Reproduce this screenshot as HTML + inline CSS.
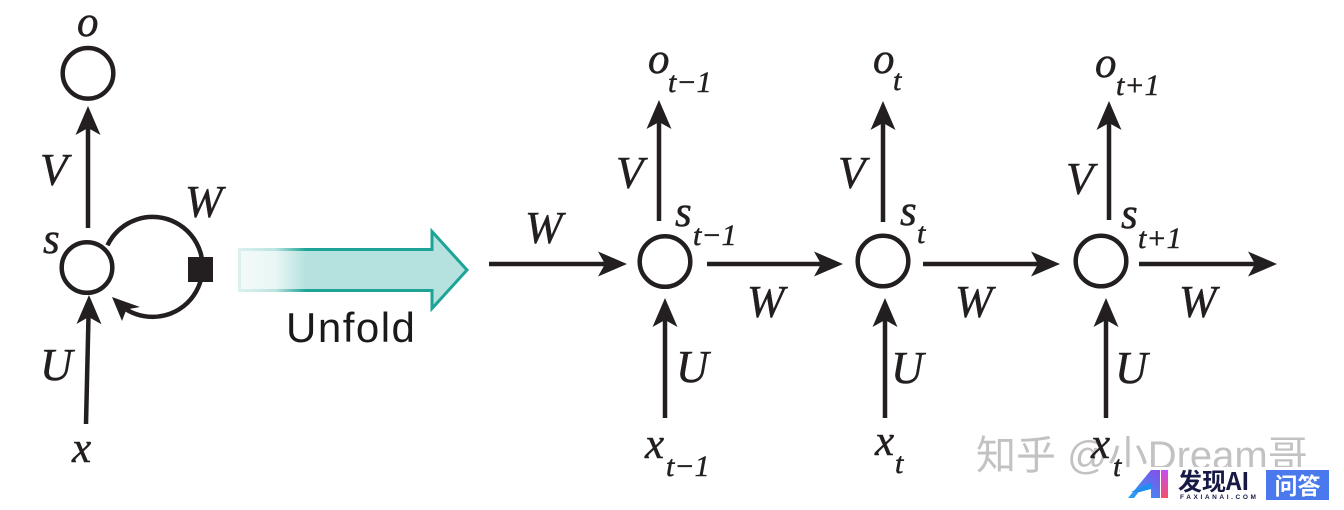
<!DOCTYPE html>
<html><head><meta charset="utf-8">
<style>
html,body{margin:0;padding:0;background:#fff;}
svg{display:block;}
.i{font-family:"Liberation Serif",serif;font-style:italic;fill:#231f20;stroke:#231f20;stroke-width:0.5;}
.C{font-size:45px;}
.l{font-size:43px;}
.sb{font-size:30px;}
</style></head>
<body>
<svg width="1344" height="510" viewBox="0 0 1344 510" xmlns="http://www.w3.org/2000/svg">
<defs>
  <linearGradient id="fade" x1="238" y1="0" x2="306" y2="0" gradientUnits="userSpaceOnUse">
    <stop offset="0" stop-color="#fff" stop-opacity="0.85"/>
    <stop offset="0.55" stop-color="#fff" stop-opacity="0.7"/>
    <stop offset="1" stop-color="#fff" stop-opacity="0"/>
  </linearGradient>
  <linearGradient id="lgA" x1="0" y1="1" x2="1" y2="0">
    <stop offset="0" stop-color="#1fa6f7"/>
    <stop offset="1" stop-color="#8a4ce8"/>
  </linearGradient>
  <linearGradient id="lgI" x1="0" y1="0" x2="0" y2="1">
    <stop offset="0" stop-color="#c44ef2"/>
    <stop offset="1" stop-color="#f4506a"/>
  </linearGradient>
</defs>

<g stroke="#231f20" stroke-width="4.5" fill="none">
  <circle cx="88" cy="73.3" r="25.3"/>
  <circle cx="87" cy="267.5" r="25.3"/>
  <line x1="88" y1="228" x2="88" y2="127"/>
  <line x1="86" y1="424" x2="88.5" y2="316"/>
  <path d="M107.5,245.3 A50,50 0 1,1 126.4,309.5"/>
  <circle cx="665" cy="261.5" r="25.3"/>
  <circle cx="883" cy="261" r="25.3"/>
  <circle cx="1101" cy="261" r="25.3"/>
  <line x1="659" y1="221" x2="659" y2="122"/>
  <line x1="883" y1="222" x2="883" y2="123"/>
  <line x1="1109" y1="220" x2="1109" y2="123"/>
  <line x1="665" y1="418" x2="665" y2="320"/>
  <line x1="885" y1="418" x2="885" y2="320"/>
  <line x1="1106" y1="418" x2="1106" y2="320"/>
  <line x1="489" y1="264" x2="606" y2="264"/>
  <line x1="707" y1="264" x2="822" y2="264"/>
  <line x1="923" y1="264" x2="1039" y2="264"/>
  <line x1="1139" y1="264" x2="1256" y2="264"/>
</g>

<g fill="#231f20">
  <polygon points="88,106 100.5,135 88,128 75.5,135"/>
  <polygon points="89,295 101.5,324.3 88.6,317 76.5,324"/>
  <polygon points="112,297 140,307 126.4,309.5 122,321"/>
  <rect x="188" y="257" width="25" height="25"/>

  <polygon points="659,100 671.5,129 659,122 646.5,129"/>
  <polygon points="883,101 895.5,130 883,123 870.5,130"/>
  <polygon points="1109,101 1121.5,130 1109,123 1096.5,130"/>

  <polygon points="665,298 677.5,327 665,320 652.5,327"/>
  <polygon points="885,298 897.5,327 885,320 872.5,327"/>
  <polygon points="1106,298 1118.5,327 1106,320 1093.5,327"/>

  <polygon points="627,264 598,251.5 605,264 598,276.5"/>
  <polygon points="843,264 814,251.5 821,264 814,276.5"/>
  <polygon points="1060,264 1031,251.5 1038,264 1031,276.5"/>
  <polygon points="1277,264 1248,251.5 1255,264 1248,276.5"/>
</g>

<path d="M239.5,249.5 L432,249.5 L432,231.5 L467,270 L432,308.5 L432,290.5 L239.5,290.5 Z" fill="#b5e2de" stroke="#1ea497" stroke-width="3" stroke-linejoin="miter"/>
<rect x="236" y="246" width="72" height="48" fill="url(#fade)"/>
<text x="286" y="342" font-family="'Liberation Sans',sans-serif" font-size="42" letter-spacing="1.5" fill="#1a1a1a">Unfold</text>

<text class="i l" x="77" y="36">o</text>
<text class="i C" x="40" y="185">V</text>
<text class="i C" x="185" y="217">W</text>
<text class="i l" x="43" y="253">s</text>
<text class="i C" x="40" y="380">U</text>
<text class="i l" x="72" y="462">x</text>

<text class="i l" x="648" y="73">o</text>
<text class="i sb" x="668" y="92">t−1</text>
<text class="i C" x="616" y="188">V</text>
<text class="i l" x="675" y="226">s</text>
<text class="i sb" x="693" y="245">t−1</text>
<text class="i C" x="525" y="243">W</text>
<text class="i C" x="747" y="317">W</text>
<text class="i C" x="676" y="382">U</text>
<text class="i l" x="645" y="458">x</text>
<text class="i sb" x="666" y="476">t−1</text>

<text class="i l" x="873" y="73">o</text>
<text class="i sb" x="893" y="90">t</text>
<text class="i C" x="838" y="188">V</text>
<text class="i l" x="900" y="225">s</text>
<text class="i sb" x="917" y="243">t</text>
<text class="i C" x="955" y="317">W</text>
<text class="i C" x="891" y="383">U</text>
<text class="i l" x="875" y="455">x</text>
<text class="i sb" x="895" y="473">t</text>

<text class="i l" x="1095" y="77">o</text>
<text class="i sb" x="1116" y="95">t+1</text>
<text class="i C" x="1066" y="194">V</text>
<text class="i l" x="1121" y="228">s</text>
<text class="i sb" x="1138" y="248">t+1</text>
<text class="i C" x="1179" y="317">W</text>
<text class="i C" x="1115" y="383">U</text>

<text x="976" y="469" font-family="'Liberation Sans','Noto Sans CJK SC',sans-serif" font-size="40" fill="#c2c2c2" stroke="#fff" stroke-width="1" paint-order="stroke">知乎 @小Dream哥</text>
<text class="i l" x="1091" y="458">x</text>
<text class="i sb" x="1113" y="476">t</text>

<rect x="1120" y="467" width="224" height="43" fill="#fff"/>
<polygon points="1128,498 1151,470 1160,470 1160,498 1151,498 1151,489 1141,489 1134,498" fill="url(#lgA)"/>
<polygon points="1131,492 1151,483 1151,489 1140,492" fill="#1c8ff0"/>
<rect x="1161" y="470" width="7" height="28" fill="url(#lgI)"/>
<text x="1178" y="490" font-family="'Noto Sans CJK SC',sans-serif" font-weight="bold" font-size="24" fill="#161a45">发现AI</text>
<text x="1180" y="499" font-family="'Liberation Sans',sans-serif" font-weight="bold" font-size="6.5" letter-spacing="2.6" fill="#161a45">FAXIANAI.COM</text>
<rect x="1266" y="470" width="63" height="30" fill="#4a79ee"/>
<text x="1297.5" y="494" text-anchor="middle" font-family="'Noto Sans CJK SC',sans-serif" font-weight="bold" font-size="23" fill="#fff">问答</text>
</svg>
</body></html>
